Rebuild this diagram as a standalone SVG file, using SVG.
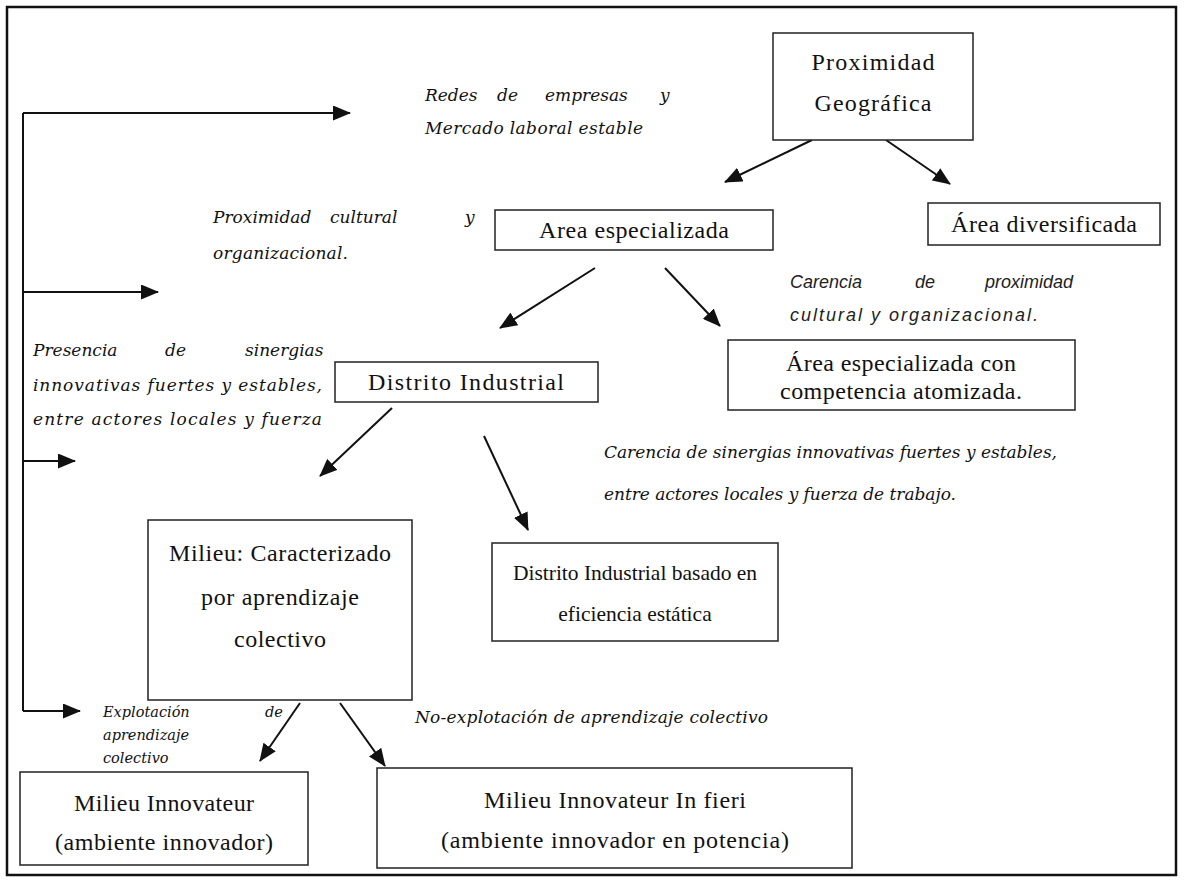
<svg xmlns="http://www.w3.org/2000/svg" width="1184" height="880" viewBox="0 0 1184 880">
<style>
.box{fill:#fff;stroke:#222;stroke-width:1.5}
.bt{font-family:"Liberation Serif",serif;font-size:24px;fill:#111;text-anchor:middle}
.bts{font-family:"Liberation Serif",serif;font-size:21.5px;fill:#111;text-anchor:middle}
.it{font-family:"DejaVu Serif",serif;font-style:italic;font-size:17px;fill:#111}
.it14{font-family:"DejaVu Serif",serif;font-style:italic;font-size:14.5px;fill:#111}
.its{font-family:"Liberation Sans",sans-serif;font-style:italic;font-size:18px;fill:#222}
.ln{stroke:#111;stroke-width:2;fill:none}
</style>
<defs>
<marker id="ah" markerWidth="18" markerHeight="15" refX="17" refY="7.5" orient="auto" markerUnits="userSpaceOnUse">
<path d="M0,0 L18,7.5 L0,15 Z" fill="#111"/>
</marker>
</defs>
<rect x="0" y="0" width="1184" height="880" fill="#fff"/>
<rect x="7" y="7" width="1169" height="868" fill="none" stroke="#111" stroke-width="2.5"/>

<g id="connectors">
<path class="ln" d="M23,113 V711"/>
<path class="ln" d="M23,113 H350" marker-end="url(#ah)"/>
<path class="ln" d="M23,292 H158" marker-end="url(#ah)"/>
<path class="ln" d="M23,461 H75" marker-end="url(#ah)"/>
<path class="ln" d="M23,711 H80" marker-end="url(#ah)"/>
<path class="ln" d="M812,140 L725,182" marker-end="url(#ah)"/>
<path class="ln" d="M886,140 L950,184" marker-end="url(#ah)"/>
<path class="ln" d="M595,268 L500,328" marker-end="url(#ah)"/>
<path class="ln" d="M665,268 L720,326" marker-end="url(#ah)"/>
<path class="ln" d="M392,408 L320,476" marker-end="url(#ah)"/>
<path class="ln" d="M484,436 L528,530" marker-end="url(#ah)"/>
<path class="ln" d="M300,703 L260,761" marker-end="url(#ah)"/>
<path class="ln" d="M340,703 L385,766" marker-end="url(#ah)"/>
</g>

<g id="n-proximidad">
<rect class="box" x="773" y="33" width="200" height="107"/>
<text class="bt" x="873" y="70" textLength="123">Proximidad</text>
<text class="bt" x="873" y="111" textLength="117">Geográfica</text>
</g>
<g id="n-area-esp">
<rect class="box" x="495" y="210" width="278" height="40"/>
<text class="bt" x="634" y="238" textLength="190">Area especializada</text>
</g>
<g id="n-area-div">
<rect class="box" x="928" y="203" width="232" height="42"/>
<text class="bt" x="1044" y="232" textLength="186">Área diversificada</text>
</g>
<g id="n-area-atom">
<rect class="box" x="728" y="340" width="347" height="70"/>
<text class="bt" x="901" y="371" textLength="230">Área especializada con</text>
<text class="bt" x="901" y="399" textLength="242">competencia atomizada.</text>
</g>
<g id="n-distrito">
<rect class="box" x="335" y="362" width="263" height="40"/>
<text class="bt" x="466" y="390" textLength="196">Distrito Industrial</text>
</g>
<g id="n-milieu">
<rect class="box" x="148" y="520" width="264" height="180"/>
<text class="bt" x="280" y="561" textLength="222">Milieu: Caracterizado</text>
<text class="bt" x="280" y="605" textLength="158">por aprendizaje</text>
<text class="bt" x="280" y="647" textLength="92">colectivo</text>
</g>
<g id="n-distrito-est">
<rect class="box" x="492" y="543" width="286" height="98"/>
<text class="bts" x="635" y="580">Distrito Industrial basado en</text>
<text class="bts" x="635" y="621">eficiencia estática</text>
</g>
<g id="n-mi">
<rect class="box" x="20" y="772" width="288" height="93"/>
<text class="bt" x="164" y="811" textLength="180">Milieu Innovateur</text>
<text class="bt" x="164" y="850" textLength="218">(ambiente innovador)</text>
</g>
<g id="n-mif">
<rect class="box" x="377" y="768" width="475" height="100"/>
<text class="bt" x="615" y="808" textLength="262">Milieu Innovateur In fieri</text>
<text class="bt" x="615" y="848" textLength="348">(ambiente innovador en potencia)</text>
</g>

<g id="labels">
<text class="it" y="101"><tspan x="425">Redes</tspan><tspan x="497">de</tspan><tspan x="545">empresas</tspan><tspan x="660">y</tspan></text>
<text class="it" x="425" y="134" textLength="218">Mercado laboral estable</text>
<text class="it" y="223"><tspan x="213">Proximidad</tspan><tspan x="330">cultural</tspan><tspan x="465">y</tspan></text>
<text class="it" x="213" y="259" textLength="135">organizacional.</text>
<text class="it" y="356"><tspan x="33">Presencia</tspan><tspan x="165">de</tspan><tspan x="245">sinergias</tspan></text>
<text class="it" x="33" y="391" textLength="289">innovativas fuertes y estables,</text>
<text class="it" x="33" y="425" textLength="289">entre actores locales y fuerza</text>
<text class="its" y="288"><tspan x="790">Carencia</tspan><tspan x="915">de</tspan><tspan x="985">proximidad</tspan></text>
<text class="its" x="790" y="321" textLength="248">cultural y organizacional.</text>
<text class="it" x="604" y="458" textLength="453">Carencia de sinergias innovativas fuertes y estables,</text>
<text class="it" x="604" y="500" textLength="352">entre actores locales y fuerza de trabajo.</text>
<text class="it14" y="717"><tspan x="103">Explotación</tspan><tspan x="265">de</tspan></text>
<text class="it14" x="103" y="740">aprendizaje</text>
<text class="it14" x="103" y="763">colectivo</text>
<text class="it" x="415" y="723" textLength="353">No-explotación de aprendizaje colectivo</text>
</g>
</svg>
